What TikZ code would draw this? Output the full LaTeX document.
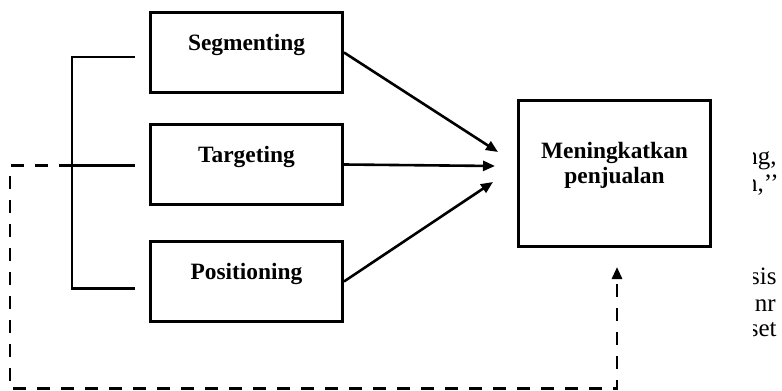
\documentclass[tikz,border=0pt]{standalone}
\usepackage{fontspec}
\setmainfont{Liberation Serif}
\usetikzlibrary{calc}
\usetikzlibrary{positioning}
\usetikzlibrary{arrows.meta}
\tikzstyle{stagenode} = [draw, rectangle, line width=1.6pt, minimum width=95.9pt, inner xsep=0pt, inner ysep=0pt, text height=18.7pt, text depth=21.2pt, font=\fontsize{11.7pt}{12.5pt}\selectfont\bfseries]
\tikzstyle{goalnode} = [stagenode, align=center, text height=41.2pt, text depth=31.7pt]
\tikzstyle{bracket} = [line width=1.3pt]
\tikzstyle{flow} = [line width=1.3pt, -{Triangle[length=6pt, width=5pt]}]
\tikzstyle{feedback} = [flow, line width=1.4pt, dash pattern=on 6.5pt off 5.5pt]
\tikzstyle{fragnode} = [anchor=base east, inner sep=0pt, font=\fontsize{12.5pt}{13pt}\selectfont]

\begin{document}
\begin{tikzpicture}
  \useasboundingbox (0,0) rectangle (391pt,-195.5pt);

  \node[stagenode] (seg) at (123.25pt,-26.25pt) {Segmenting};
  \node[stagenode, below=14.5pt of seg] (tgt) {Targeting};
  \node[stagenode, below=17pt of tgt] (pos) {Positioning};
  \node[goalnode] (goal) at (307.25pt,-86.75pt) {Meningkatkan\\penjualan};

  \coordinate (inS) at ($(goal.west)+(-9.5pt,10.75pt)$);
  \coordinate (inT) at ($(goal.west)+(-11pt,3.75pt)$);
  \coordinate (inP) at ($(goal.west)+(-12pt,-4.25pt)$);
  \coordinate (jS) at ($(seg.west)+(-7pt,-2.25pt)$);
  \coordinate (jT) at ($(tgt.west)+(-7pt,-0.5pt)$);
  \coordinate (jP) at ($(pos.west)+(-7pt,-3.5pt)$);
  \coordinate (fbTip) at ($(goal.south)+(1.25pt,-9.5pt)$);
  \coordinate (fbCorner) at (5pt,-194.3pt);

  \draw[bracket] (jS) -- ++(-31.5pt,0) |- (jP);
  \draw[bracket] (jT) -- ++(-31.5pt,0) coordinate (jX);

  \draw[flow] (seg.east) -- (inS);
  \draw[flow] (tgt.east) -- (inT);
  \draw[flow] (pos.east) -- (inP);
  \draw[feedback] (jX) -| (fbCorner) -| (fbTip);

  % cut-off text at the right margin
  \begin{scope}
    \clip (376.5pt,0) rectangle (391pt,-195.5pt);
    \node[fragnode] (fr1) at (388.5pt,-82pt) {ng,};
    \node[fragnode] (fr2) at (389.5pt,-95.5pt) {n,’’};
    \node[fragnode] (fr3) at (388.5pt,-142pt) {sis};
    \node[fragnode] (fr4) at (388pt,-155.5pt) {nr};
    \node[fragnode] (fr5) at (388.5pt,-168pt) {set};
  \end{scope}
\end{tikzpicture}
\end{document}
